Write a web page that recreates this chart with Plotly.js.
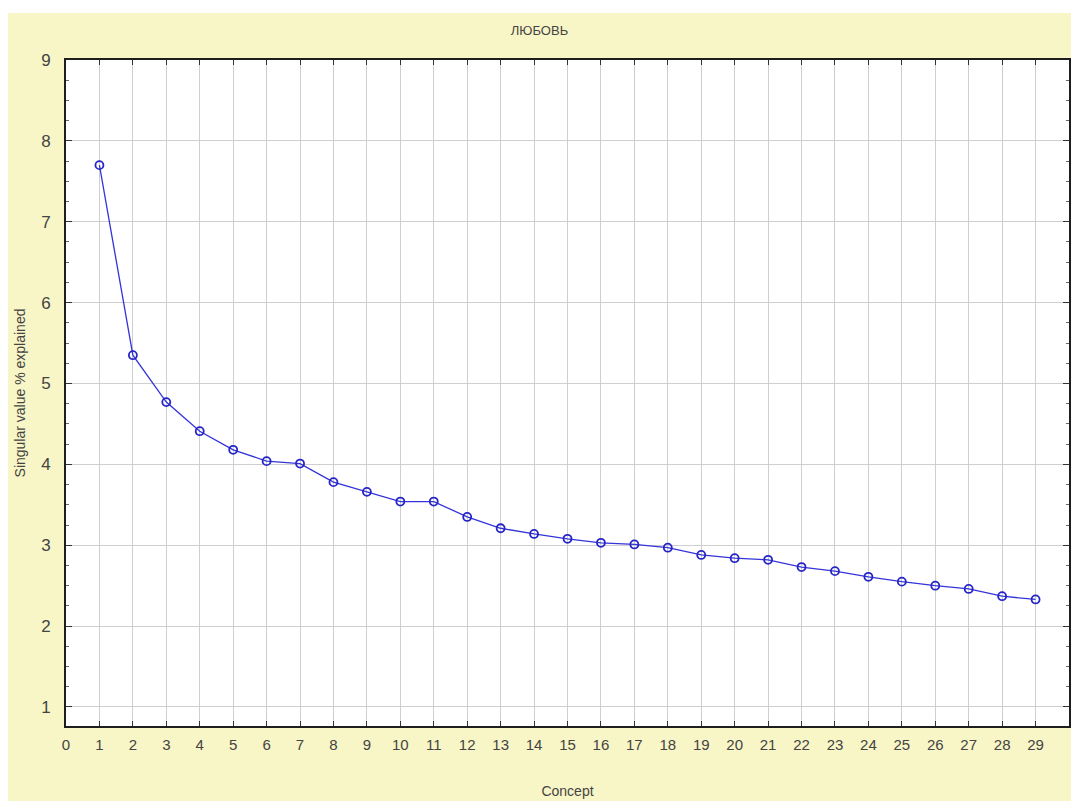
<!DOCTYPE html>
<html>
<head>
<meta charset="utf-8">
<script src="https://cdn.plot.ly/plotly-3.0.1.min.js"></script>
<style>
html,body{margin:0;padding:0;background:#ffffff;width:1071px;height:801px;overflow:hidden;}
#chart{position:absolute;left:8px;top:13px;width:1063px;height:788px;}
</style>
</head>
<body>
<div id="chart"></div>
<script>
const concepts = [1,2,3,4,5,6,7,8,9,10,11,12,13,14,15,16,17,18,19,20,21,22,23,24,25,26,27,28,29];
const singularValues = [7.70,5.35,4.77,4.41,4.18,4.04,4.01,3.78,3.66,3.54,3.54,3.35,3.21,3.14,3.08,3.03,3.01,2.97,2.88,2.84,2.82,2.73,2.68,2.61,2.55,2.50,2.46,2.37,2.33];
const xTickVals = [0,1,2,3,4,5,6,7,8,9,10,11,12,13,14,15,16,17,18,19,20,21,22,23,24,25,26,27,28,29,30];
const chartTitle = "ЛЮБОВЬ";
const xTitle = "Concept";
const yTitle = "Singular value % explained";

const fontFam = "Liberation Sans, Arial, sans-serif";
const trace = {
  x: concepts, y: singularValues, type: 'scatter', mode: 'lines+markers',
  line: {color: '#3434d8', width: 1.3},
  marker: {symbol: 'circle-open', size: 8, color: '#2626c8', line: {width: 1.8, color: '#2626c8'}},
  showlegend: false, hoverinfo: 'x+y', cliponaxis: false
};
const layout = {
  width: 1063, height: 788,
  paper_bgcolor: '#f8f5c6', plot_bgcolor: '#ffffff',
  margin: {l: 58, r: 2, t: 47, b: 75},
  title: {text: chartTitle, x: 0.5, xanchor: 'center', y: 0.978, yanchor: 'middle',
          font: {family: fontFam, size: 13, color: '#444444'}},
  xaxis: {
    range: [0, 30], tickmode: 'array', tickvals: xTickVals, ticktext: xTickVals.map(String),
    showgrid: true, gridcolor: '#cfcfcf', gridwidth: 1, zeroline: false,
    showline: true, linecolor: '#1e1e1e', linewidth: 2, mirror: 'ticks',
    ticks: 'inside', ticklen: 5, tickcolor: '#333', tickwidth: 1,
    tickfont: {family: fontFam, size: 15, color: '#444444'},
    ticklabelstandoff: 4,
    title: {text: xTitle, standoff: 34, font: {family: fontFam, size: 14, color: '#444444'}}
  },
  yaxis: {
    range: [0.765, 9], tickmode: 'linear', tick0: 0, dtick: 1,
    showgrid: true, gridcolor: '#cfcfcf', gridwidth: 1, zeroline: false,
    showline: true, linecolor: '#1e1e1e', linewidth: 2, mirror: 'ticks',
    ticks: 'inside', ticklen: 6, tickcolor: '#333', tickwidth: 1,
    minor: {dtick: 0.25, tick0: 0, ticks: 'inside', ticklen: 3, tickcolor: '#666', showgrid: false},
    tickfont: {family: fontFam, size: 17, color: '#444444'},
    ticklabelstandoff: 10,
    title: {text: yTitle, standoff: 12, font: {family: fontFam, size: 14, color: '#444444'}}
  }
};
Plotly.newPlot('chart', [trace], layout, {displayModeBar: false, staticPlot: true});
</script>
</body>
</html>
